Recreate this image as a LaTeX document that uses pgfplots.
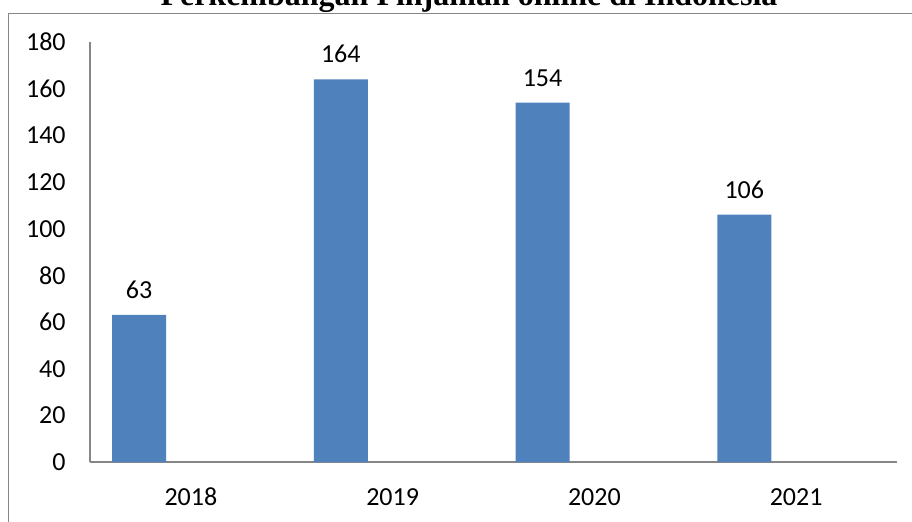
\documentclass[border=0pt]{standalone}
\usepackage{pgfplots}
\pgfplotsset{compat=1.18}
\usepackage{fontspec}
\setmainfont{Carlito}
\newfontfamily\titlefont{Liberation Serif}
\definecolor{barblue}{HTML}{4F81BD}
\definecolor{axisgray}{HTML}{868686}

\begin{document}
\begin{tikzpicture}
\path[use as bounding box, clip] (0,0) rectangle (456bp,261bp);
% chart frame (only left and top edges are inside the picture)
\draw[axisgray, line width=0.8pt] (4.2bp,-5bp) -- (4.2bp,254.3bp) -- (470bp,254.3bp);
\node[anchor=base, inner sep=0pt, font=\titlefont\bfseries\fontsize{16bp}{18bp}\selectfont]
  at (234.5bp,258bp) {Perkembangan Pinjaman online di Indonesia};
\begin{axis}[
    at={(45bp,30bp)}, anchor=south west,
    scale only axis,
    width=403.5bp, height=210bp,
    xmin=-0.5, xmax=3.5,
    ymin=0, ymax=180,
    ytick={0,20,...,180},
    xtick={0,1,2,3},
    xticklabels={2018,2019,2020,2021},
    axis x line=bottom, axis y line=left,
    axis line style={axisgray, line width=0.8pt, -},
    major tick length=0pt,
    tick style={draw=none},
    ticklabel style={font=\fontsize{13bp}{15bp}\selectfont, inner sep=0pt},
    yticklabel style={anchor=east, xshift=-12bp},
    xticklabel style={anchor=base, yshift=-21.5bp},
    /pgf/number format/assume math mode=true,
    clip=false,
]
\addplot[ybar, bar width=27bp, fill=barblue, draw=none, bar shift=0pt,
    nodes near coords,
    nodes near coords style={font=\fontsize{13bp}{15bp}\selectfont, anchor=south, inner sep=0pt, yshift=8bp, black}]
  coordinates {(-0.257,63) (0.743,164) (1.743,154) (2.743,106)};
\end{axis}
\end{tikzpicture}
\end{document}
